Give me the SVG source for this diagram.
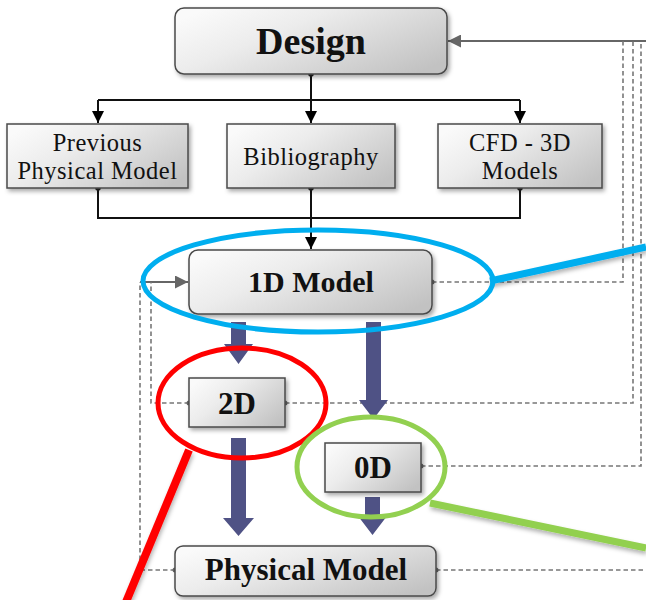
<svg xmlns="http://www.w3.org/2000/svg" width="646" height="600" viewBox="0 0 646 600">
<defs>
<linearGradient id="g" x1="0" y1="0.2" x2="1" y2="0.8">
<stop offset="0" stop-color="#fafafa"/>
<stop offset="0.35" stop-color="#ececec"/>
<stop offset="1" stop-color="#c2c2c2"/>
</linearGradient>
<filter id="sh" x="-10%" y="-10%" width="130%" height="140%">
<feDropShadow dx="2" dy="2.5" stdDeviation="2" flood-color="#000" flood-opacity="0.35"/>
</filter>
<filter id="lsh" filterUnits="userSpaceOnUse" x="0" y="0" width="646" height="600">
<feDropShadow dx="1" dy="3" stdDeviation="2" flood-color="#000" flood-opacity="0.3"/>
</filter>
<marker id="ab" viewBox="0 0 12 12" refX="12" refY="6" markerWidth="12" markerHeight="12" markerUnits="userSpaceOnUse" orient="auto">
<path d="M0,0 L12,6 L0,12 Z" fill="#000"/>
</marker>
<marker id="ag" viewBox="0 0 12 12" refX="12" refY="6" markerWidth="13" markerHeight="13" markerUnits="userSpaceOnUse" orient="auto">
<path d="M0,0 L12,6 L0,12 Z" fill="#666"/>
</marker>
</defs>
<style>
.box{fill:url(#g);stroke:#4a4a4a;stroke-width:1.5;filter:url(#sh)}
.b{font-family:"Liberation Serif",serif;font-weight:bold;text-anchor:middle;fill:#111}
.r{font-family:"Liberation Serif",serif;font-size:24.5px;letter-spacing:0.5px;text-anchor:middle;fill:#111}
.k{fill:none;stroke:#111;stroke-width:2}
.d{fill:none;stroke:#777;stroke-width:1.6;stroke-dasharray:4.5 3}
.s{fill:none;stroke:#666;stroke-width:2}
.dot{fill:#222}
.gdot{fill:#666}
.big{fill:#4f5285}
.ann{fill:none;stroke-width:5}
.ln{fill:none;stroke-width:7;stroke-linecap:butt;filter:url(#lsh)}
.red{stroke:#ff0000;stroke-width:8}
</style>

<g id="connectors">
<path class="k" d="M311,74 V100"/>
<path class="k" d="M98,100 H520"/>
<path class="k" d="M98,100 V123" marker-end="url(#ab)"/>
<path class="k" d="M311,100 V123" marker-end="url(#ab)"/>
<path class="k" d="M520,100 V123" marker-end="url(#ab)"/>
<path class="k" d="M98,188 V218 H520 V188"/>
<path class="k" d="M311,188 V249" marker-end="url(#ab)"/>
<path class="s" d="M140,282 H188" marker-end="url(#ag)"/>
<path class="d" d="M175,570 H140 V282"/>
<path class="d" d="M189,403 H151 V282"/>
<path class="s" d="M646,41 H448" marker-end="url(#ag)"/>
<path class="d" d="M432,282 H623 V41"/>
<path class="d" d="M285,403 H633 V41"/>
<path class="d" d="M421,466 H641 V41"/>
<path class="d" d="M436,570 H646"/>
<circle class="dot" cx="311" cy="74" r="2.8"/>
<circle class="dot" cx="98" cy="188" r="2.8"/>
<circle class="dot" cx="311" cy="188" r="2.8"/>
<circle class="dot" cx="520" cy="188" r="2.8"/>
<circle class="gdot" cx="432" cy="282" r="2.5"/>
<circle class="gdot" cx="189" cy="403" r="2.5"/>
<circle class="gdot" cx="285" cy="403" r="2.5"/>
<circle class="gdot" cx="421" cy="466" r="2.5"/>
<circle class="gdot" cx="175" cy="570" r="2.5"/>
<circle class="gdot" cx="436" cy="570" r="2.5"/>
<path class="big" d="M231,322 H246 V344 H253 L238.5,364 L224,344 H231 Z"/>
<path class="big" d="M366,322 H381 V400 H388 L373.5,419 L359,400 H366 Z"/>
<path class="big" d="M231,438 H246 V518 H254 L238.5,536 L223,518 H231 Z"/>
<path class="big" d="M365,497 H380 V516 H387 L372.5,535 L358,516 H365 Z"/>
</g>

<g id="design">
<rect class="box" x="175" y="8" width="272" height="66" rx="9"/>
<text class="b" x="311" y="54" font-size="38">Design</text>
</g>
<g id="previous">
<rect class="box" x="7" y="124" width="181" height="64"/>
<text class="r" x="97.5" y="151">Previous</text>
<text class="r" x="97.5" y="179">Physical Model</text>
</g>
<g id="bibliography">
<rect class="box" x="227" y="124" width="168" height="64"/>
<text class="r" x="311" y="165">Bibliography</text>
</g>
<g id="cfd">
<rect class="box" x="438" y="124" width="164" height="64"/>
<text class="r" x="520" y="151">CFD - 3D</text>
<text class="r" x="520" y="179">Models</text>
</g>
<g id="model1d">
<rect class="box" x="189" y="250" width="243" height="64" rx="9"/>
<text class="b" x="311" y="292" font-size="30">1D Model</text>
</g>
<g id="model2d">
<rect class="box" x="189" y="378" width="96" height="49"/>
<text class="b" x="237" y="414" font-size="31">2D</text>
</g>
<g id="model0d">
<rect class="box" x="325" y="443" width="96" height="49"/>
<text class="b" x="373" y="478" font-size="31">0D</text>
</g>
<g id="physical">
<rect class="box" x="175" y="546" width="261" height="50" rx="8"/>
<text class="b" x="306" y="580" font-size="31">Physical Model</text>
</g>

<g id="annotations">
<path class="ln" d="M490,281 L646,247" stroke="#00aeef"/>
<ellipse class="ann" cx="318" cy="281" rx="175" ry="51" stroke="#00aeef"/>
<path class="ln red" d="M189,450 L126,602"/>
<ellipse class="ann" cx="242" cy="403" rx="84" ry="55" stroke="#ff0000"/>
<path class="ln" d="M430,503 L646,548" stroke="#92d050"/>
<ellipse class="ann" cx="371" cy="467" rx="74" ry="50" stroke="#92d050"/>
</g>
</svg>
